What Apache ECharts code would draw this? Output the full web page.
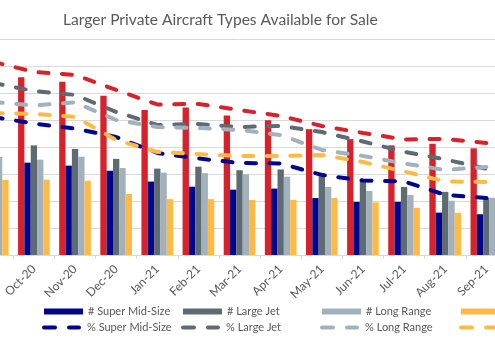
<!DOCTYPE html>
<html>
<head>
<meta charset="utf-8">
<script src="https://cdn.jsdelivr.net/npm/echarts@6/dist/echarts.min.js"></script>
<style>
html,body{margin:0;padding:0;background:#fff;overflow:hidden;width:495px;height:357px;position:relative;}
#chart{position:absolute;left:-100px;top:0;width:695px;height:357px;}
</style>
</head>
<body>
<div id="chart"></div>
<script>
var categories = ['Sep-20','Oct-20','Nov-20','Dec-20','Jan-21','Feb-21','Mar-21','Apr-21','May-21','Jun-21','Jul-21','Aug-21','Sep-21'];

var seriesNames = ['All Larger Jets','Super Mid-Size','Large Jet','Long Range','Ultra Long Range'];

var countTotal     = [68.0, 65.8, 64.2, 59.0, 53.7, 54.6, 51.7, 49.9, 46.6, 42.9, 40.6, 41.2, 39.5];
var countSuperMid  = [35.0, 34.2, 33.1, 31.2, 27.2, 25.3, 24.2, 24.6, 21.1, 19.7, 19.7, 15.7, 15.1];
var countLargeJet  = [41.0, 40.6, 39.3, 35.6, 32.0, 32.7, 31.4, 31.7, 30.4, 27.9, 25.2, 23.4, 21.2];
var countLongRange = [36.3, 35.3, 36.4, 32.2, 30.5, 30.3, 29.9, 29.0, 25.2, 23.7, 22.2, 20.1, 21.2];
var countUltraLong = [27.8, 27.9, 27.5, 22.6, 20.7, 20.7, 20.4, 20.4, 21.1, 19.5, 17.5, 15.6, 15.5];

var pctTotal       = [14.32, 13.56, 13.34, 12.23, 11.15, 11.19, 10.74, 10.30, 9.56, 9.04, 8.56, 8.60, 8.30];
var pctSuperMid    = [10.23, 9.74, 9.36, 8.74, 7.56, 7.15, 6.82, 6.78, 5.93, 5.52, 5.45, 4.45, 4.22];
var pctLargeJet    = [12.75, 12.15, 11.86, 10.60, 9.63, 9.71, 9.48, 9.56, 9.11, 8.41, 7.65, 7.08, 6.39];
var pctLongRange   = [11.34, 11.08, 11.30, 10.00, 9.48, 9.41, 9.26, 8.89, 7.78, 7.34, 6.78, 6.30, 6.52];
var pctUltraLong   = [10.52, 10.45, 10.23, 8.52, 7.63, 7.48, 7.34, 7.34, 7.41, 6.89, 6.19, 5.45, 5.41];

var countData = [countTotal, countSuperMid, countLargeJet, countLongRange, countUltraLong];
var pctData = [pctTotal, pctSuperMid, pctLargeJet, pctLongRange, pctUltraLong];
var colors = ['#D7212B', '#00068C', '#5F6B72', '#A3B1BC', '#FFBA45'];

var OFF = 100; // chart canvas is shifted left by this many px (reference is a crop)
var txtColor = '#595959';
var font = 'Lato';
var dashIcon = 'path://M2,0h11a2,2 0 0 1 0,4h-11a2,2 0 0 1 0,-4z M27,0h10a2,2 0 0 1 0,4h-10a2,2 0 0 1 0,-4z';

var series = [];
var legends = [];
var colLeft = [-150, 44, 183, 322, 461];
for (var i = 0; i < seriesNames.length; i++) {
  series.push({
    name: '# ' + seriesNames[i],
    type: 'bar',
    yAxisIndex: 0,
    data: countData[i],
    itemStyle: {color: colors[i]},
    barGap: '0%',
    barCategoryGap: '23%',
    animation: false
  });
}
for (var j = 0; j < seriesNames.length; j++) {
  series.push({
    name: '% ' + seriesNames[j],
    type: 'line',
    yAxisIndex: 1,
    data: pctData[j],
    symbol: 'none',
    color: colors[j],
    lineStyle: {color: colors[j], width: 4, type: [10, 13.5], cap: 'round'},
    z: 5,
    animation: false
  });
}
for (var k = 0; k < seriesNames.length; k++) {
  legends.push({
    data: [{name: '# ' + seriesNames[k], icon: 'rect'}],
    left: OFF + colLeft[k], top: 306, padding: 0,
    itemWidth: 39, itemHeight: 6, itemGap: 0,
    textStyle: {color: txtColor, fontSize: 11, fontFamily: font},
    selectedMode: false
  });
  legends.push({
    data: [{name: '% ' + seriesNames[k], icon: dashIcon}],
    left: OFF + colLeft[k] - 2, top: 322, padding: 0,
    itemWidth: 39, itemHeight: 4, itemGap: 0,
    textStyle: {color: txtColor, fontSize: 11, fontFamily: font, padding: [0,0,0,1]},
    itemStyle: {color: colors[k]},
    selectedMode: false
  });
}

var chart = echarts.init(document.getElementById('chart'), null, {renderer: 'canvas'});
chart.setOption({
  animation: false,
  title: {
    text: 'Larger Private Aircraft Types Available for Sale',
    left: OFF + 63, top: 12, padding: 0,
    textStyle: {color: txtColor, fontSize: 15.6, fontWeight: 'normal', fontFamily: font}
  },
  legend: legends,
  grid: {left: OFF - 27.8, right: 695 - OFF - 506.9, top: 39, bottom: 102, containLabel: false},
  xAxis: {
    type: 'category',
    data: categories,
    axisLine: {lineStyle: {color: '#D9D9D9'}},
    axisTick: {show: true, length: 4, lineStyle: {color: '#D9D9D9'}},
    axisLabel: {rotate: 45, color: txtColor, fontSize: 12, fontFamily: font, margin: 12, interval: 0}
  },
  yAxis: [
    {type: 'value', min: 0, max: 80, interval: 10,
     axisLabel: {show: false}, axisLine: {show: false}, axisTick: {show: false},
     splitLine: {lineStyle: {color: '#D9D9D9', width: 1}}},
    {type: 'value', min: 0, max: 16, interval: 2,
     axisLabel: {show: false}, axisLine: {show: false}, axisTick: {show: false},
     splitLine: {show: false}}
  ],
  series: series
});
</script>
</body>
</html>
